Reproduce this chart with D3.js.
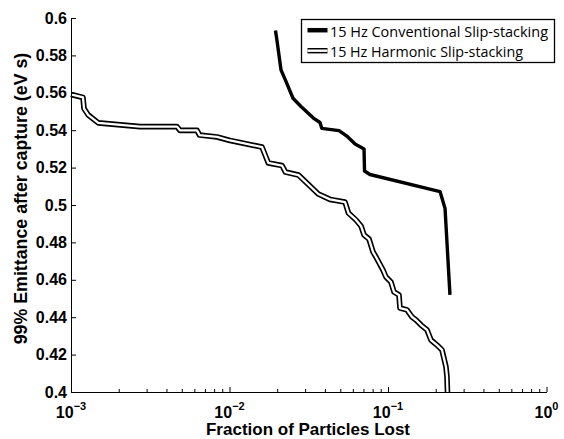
<!DOCTYPE html>
<html>
<head>
<meta charset="utf-8">
<script src="https://cdn.jsdelivr.net/npm/d3@7"></script>
<style>
  html, body { margin: 0; padding: 0; background: #fff; }
  svg { display: block; }
</style>
</head>
<body>
<svg id="chart" width="564" height="439"></svg>
<script>
// Emittance after capture vs. fraction of particles lost, two slip-stacking schemes.

const seriesNames = ["15 Hz Conventional Slip-stacking", "15 Hz Harmonic Slip-stacking"];

// 15 Hz conventional slip-stacking
const convLost = [0.0195, 0.01987, 0.02114, 0.02254, 0.02516, 0.02825, 0.03381, 0.03724, 0.0382,
  0.0491, 0.0556, 0.0620, 0.0706, 0.0711, 0.0769, 0.2129, 0.229, 0.246];
const convEmit = [0.5933, 0.5888, 0.5722, 0.5668, 0.5571, 0.5527, 0.5465, 0.5441, 0.5410,
  0.5398, 0.5365, 0.5326, 0.5300, 0.5182, 0.5163, 0.5072, 0.4982, 0.4519];

// 15 Hz harmonic slip-stacking
const harmLost = [0.001, 0.00119, 0.001208, 0.001286, 0.001487, 0.002725, 0.004664, 0.004871,
  0.006237, 0.006467, 0.00834, 0.010073, 0.01603, 0.01757, 0.02144, 0.02256, 0.02725, 0.03634,
  0.04306, 0.05355, 0.05634, 0.06283, 0.06757, 0.07057, 0.07588, 0.08042, 0.084, 0.093, 0.09714,
  0.1044, 0.1091, 0.1173, 0.119, 0.1318, 0.1418, 0.1502, 0.1616, 0.1763, 0.1868, 0.2038, 0.2191,
  0.2322, 0.2356, 0.2373];
const harmEmit = [0.5591, 0.5575, 0.5516, 0.5481, 0.5439, 0.5419, 0.5419, 0.5399,
  0.5399, 0.5374, 0.5364, 0.5345, 0.5310, 0.5225, 0.5211, 0.5176, 0.5160, 0.5059,
  0.5030, 0.5016, 0.4957, 0.4920, 0.4888, 0.4840, 0.4818, 0.4749, 0.4722, 0.4652, 0.4615,
  0.4588, 0.4535, 0.4519, 0.4449, 0.4439, 0.4401, 0.4385, 0.4358, 0.4332, 0.4278, 0.4251, 0.4225,
  0.4134, 0.4080, 0.4000];

// Axis ticks
const xMajorTicks = [1e-3, 1e-2, 1e-1, 1];
const xTickExponents = ["\u22123", "\u22122", "\u22121", "0"];
const yTicks = [0.4, 0.42, 0.44, 0.46, 0.48, 0.5, 0.52, 0.54, 0.56, 0.58, 0.6];

const xTitle = "Fraction of Particles Lost";
const yTitle = "99% Emittance after capture (eV s)";

const svg = d3.select("#chart");
const margin = { left: 71, right: 564 - 546.5, top: 18, bottom: 439 - 392 };
const W = 564, H = 439;

const x = d3.scaleLog().domain([1e-3, 1]).range([margin.left, W - margin.right]);
const y = d3.scaleLinear().domain([0.4, 0.6]).range([H - margin.bottom, margin.top]);

const axisFont = "'Liberation Sans', Arial, Helvetica, sans-serif";

// minor ticks at 2..9 within each decade
const xMinorTicks = [];
for (let d = -3; d < 0; d++) for (let m = 2; m <= 9; m++) xMinorTicks.push(m * Math.pow(10, d));

// clip region for plotted lines
svg.append("defs").append("clipPath").attr("id", "plotClip")
  .append("rect")
  .attr("x", margin.left - 2).attr("y", margin.top - 2)
  .attr("width", W - margin.right - margin.left + 4)
  .attr("height", H - margin.bottom - margin.top + 2);

const line = d3.line().x(d => x(d[0])).y(d => y(d[1])).curve(d3.curveLinear);
const convData = convLost.map((v, i) => [v, convEmit[i]]);
const harmData = harmLost.map((v, i) => [v, harmEmit[i]]);

const plot = svg.append("g").attr("clip-path", "url(#plotClip)");

// harmonic: double line (black outline with white core)
plot.append("path").datum(harmData).attr("d", line)
  .attr("fill", "none").attr("stroke", "#000").attr("stroke-width", 5.6)
  .attr("stroke-linejoin", "round");
plot.append("path").datum(harmData).attr("d", line)
  .attr("fill", "none").attr("stroke", "#fff").attr("stroke-width", 2.3)
  .attr("stroke-linejoin", "round");

// conventional: thick solid line
plot.append("path").datum(convData).attr("d", line)
  .attr("fill", "none").attr("stroke", "#000").attr("stroke-width", 3.4)
  .attr("stroke-linejoin", "round");

// x axis
const xAxisG = svg.append("g").attr("transform", `translate(0,${y(0.4)})`);
xAxisG.call(d3.axisBottom(x).tickValues(xMinorTicks).tickSizeInner(-3).tickSizeOuter(0).tickFormat(""));
const xMajG = svg.append("g").attr("transform", `translate(0,${y(0.4)})`);
xMajG.call(d3.axisBottom(x).tickValues(xMajorTicks).tickSizeInner(-5).tickSizeOuter(0).tickFormat(""));
[xAxisG, xMajG].forEach(g => {
  g.selectAll("path.domain").attr("stroke", "#000").attr("stroke-width", 1);
  g.selectAll(".tick line").attr("stroke", "#000").attr("stroke-width", 1);
});

// x tick labels: 10 with superscript exponent
xMajorTicks.forEach((t, i) => {
  const txt = svg.append("text")
    .attr("x", x(t)).attr("y", 418)
    .attr("text-anchor", "middle")
    .attr("font-family", axisFont).attr("font-weight", "bold")
    .attr("font-size", 16).attr("fill", "#000");
  txt.append("tspan").text("10");
  txt.append("tspan").attr("dy", -8).attr("font-size", 11).text(xTickExponents[i]);
});

// y axis
const yAxisG = svg.append("g").attr("transform", `translate(${margin.left},0)`);
yAxisG.call(d3.axisLeft(y).tickValues(yTicks).tickSizeInner(-5).tickSizeOuter(0).tickPadding(4)
  .tickFormat(d => String(+d.toFixed(2))));
yAxisG.selectAll("path.domain").attr("stroke", "#000").attr("stroke-width", 1);
yAxisG.selectAll(".tick line").attr("stroke", "#000").attr("stroke-width", 1);
yAxisG.selectAll(".tick text")
  .attr("font-family", axisFont).attr("font-weight", "bold")
  .attr("font-size", 16).attr("fill", "#000");

// axis titles
svg.append("text")
  .attr("x", 308).attr("y", 435)
  .attr("text-anchor", "middle")
  .attr("font-family", axisFont).attr("font-weight", "bold").attr("font-size", 17)
  .attr("fill", "#000").text(xTitle);

svg.append("text")
  .attr("transform", `translate(27,198.5) rotate(-90)`)
  .attr("text-anchor", "middle")
  .attr("font-family", axisFont).attr("font-weight", "bold").attr("font-size", 17.8)
  .attr("fill", "#000").text(yTitle);

// legend
const lg = svg.append("g");
lg.append("rect")
  .attr("x", 301.5).attr("y", 19.5).attr("width", 253).attr("height", 43)
  .attr("fill", "#fff").attr("stroke", "#000").attr("stroke-width", 1.3);

const legendFont = "'Open Sans', 'Noto Sans', sans-serif";
const rows = [{ y: 30.2, base: 36.5, len: 218 }, { y: 50.7, base: 57.2, len: 193 }];

lg.append("line").attr("x1", 307.5).attr("x2", 327.5).attr("y1", rows[0].y).attr("y2", rows[0].y)
  .attr("stroke", "#000").attr("stroke-width", 4.5);
lg.append("line").attr("x1", 307.5).attr("x2", 327.5).attr("y1", rows[1].y).attr("y2", rows[1].y)
  .attr("stroke", "#000").attr("stroke-width", 5.4);
lg.append("line").attr("x1", 307.5).attr("x2", 327.5).attr("y1", rows[1].y).attr("y2", rows[1].y)
  .attr("stroke", "#fff").attr("stroke-width", 2.4);

seriesNames.forEach((name, i) => {
  lg.append("text")
    .attr("x", 330).attr("y", rows[i].base)
    .attr("font-family", legendFont).attr("font-size", 15)
    .attr("textLength", rows[i].len).attr("lengthAdjust", "spacingAndGlyphs")
    .attr("fill", "#000").text(name);
});
</script>
</body>
</html>
